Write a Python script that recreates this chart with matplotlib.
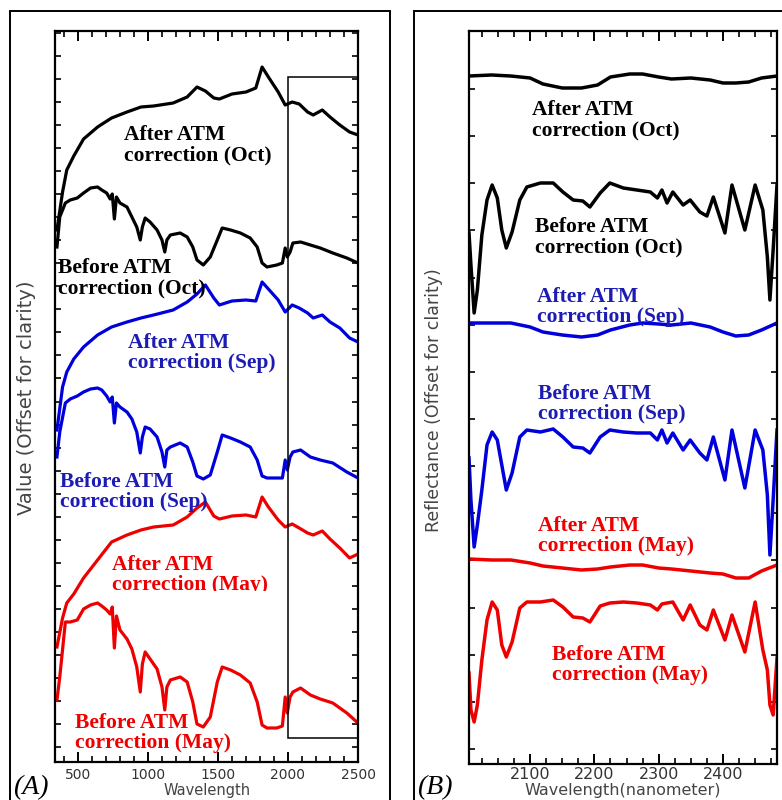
import numpy as np
import matplotlib.pyplot as plt
from matplotlib.patches import Rectangle
from matplotlib.ticker import MultipleLocator

# ---- panel A: full range spectra (offset for clarity) ----
wl_a_after = [350, 390, 420, 470, 540, 640, 740, 850, 950, 1040, 1180, 1280, 1350, 1410,
              1470, 1510, 1600, 1700, 1770, 1815, 1860, 1930, 1980, 2030, 2080, 2140,
              2180, 2245, 2300, 2370, 2440, 2500]
a_after_oct = [53.2, 57.0, 59.2, 60.6, 62.3, 63.5, 64.4, 65.0, 65.5, 65.6, 65.9, 66.5, 67.5, 67.1,
               66.4, 66.3, 66.8, 67.0, 67.4, 69.5, 68.5, 67.0, 65.7, 66.0, 65.8, 65.0,
               64.7, 65.2, 64.5, 63.7, 63.0, 62.7]
a_after_sep = [33.2, 37.5, 39.0, 40.3, 41.5, 42.7, 43.5, 44.0, 44.4, 44.7, 45.2, 46.0, 46.8, 47.7,
               46.4, 45.7, 46.1, 46.2, 46.1, 48.0, 47.3, 46.2, 45.0, 45.7, 45.4, 44.9,
               44.4, 44.7, 44.0, 43.4, 42.4, 42.0]
a_after_may = [11.5, 14.4, 15.9, 16.8, 18.4, 20.2, 22.0, 22.7, 23.2, 23.5, 23.7, 24.5, 25.4, 26.0,
               24.6, 24.3, 24.6, 24.7, 24.5, 26.5, 25.5, 24.2, 23.5, 23.8, 23.4, 22.9,
               22.7, 23.1, 22.3, 21.4, 20.4, 20.8]

wl_a_before = [350, 370, 410, 445, 495, 540, 590, 640, 670, 705, 730, 745, 760, 775, 800,
               850, 885, 920, 945, 960, 980, 1015, 1065, 1100, 1120, 1135, 1160, 1230,
               1280, 1320, 1350, 1395, 1445, 1495, 1530, 1590, 1660, 1730, 1780, 1815,
               1850, 1920, 1960, 1980, 1995, 2015, 2035, 2090, 2160, 2230, 2320, 2420, 2500]
a_before_oct = [51.5, 54.5, 55.9, 56.2, 56.4, 56.9, 57.4, 57.5, 57.2, 56.9, 56.3, 56.8, 54.3, 56.5, 55.9,
                55.5, 54.5, 53.5, 52.2, 53.5, 54.4, 54.0, 53.2, 52.2, 51.0, 52.2, 52.7, 52.9,
                52.5, 51.5, 50.2, 49.7, 50.5, 52.2, 53.4, 53.2, 52.9, 52.4, 51.5, 49.9,
                49.5, 49.7, 49.9, 51.4, 50.5, 51.0, 51.9, 52.0, 51.7, 51.4, 50.9, 50.4, 49.9]
a_before_sep = [30.5, 33.0, 35.9, 36.3, 36.6, 37.0, 37.3, 37.4, 37.2, 36.6, 36.0, 36.5, 33.9, 35.9, 35.5,
                35.0, 34.3, 33.0, 30.9, 32.5, 33.5, 33.3, 32.5, 31.0, 29.5, 31.2, 31.5, 31.9,
                31.5, 30.0, 28.6, 28.3, 28.7, 31.0, 32.7, 32.4, 32.0, 31.5, 30.2, 28.6,
                28.4, 28.4, 28.4, 30.2, 29.2, 30.5, 31.0, 31.2, 30.5, 30.2, 29.9, 29.0, 28.4]
a_before_may = [6.2, 8.5, 14.0, 14.0, 14.2, 15.3, 15.7, 15.9, 15.6, 15.2, 14.8, 15.5, 11.4, 14.6, 13.2,
                12.3, 11.3, 9.5, 7.0, 9.8, 11.0, 10.3, 9.3, 7.5, 5.2, 7.5, 8.2, 8.5,
                8.0, 6.0, 3.8, 3.5, 4.5, 8.0, 9.5, 9.2, 8.7, 7.9, 6.0, 3.7,
                3.4, 3.4, 3.6, 6.5, 4.9, 6.5, 7.0, 7.4, 6.7, 6.3, 5.9, 4.9, 3.9]

# ---- panel B: 2000-2500 nm detail ----
wl_b_after = [2005, 2040, 2070, 2100, 2120, 2150, 2180, 2205, 2225, 2255, 2275, 2300, 2320,
              2350, 2380, 2400, 2420, 2440, 2460, 2484]
b_after_oct = [68.8, 68.9, 68.8, 68.6, 68.0, 67.6, 67.6, 67.9, 68.7, 69.0, 69.0, 68.7, 68.5,
               68.6, 68.4, 68.1, 68.1, 68.2, 68.6, 68.8]
b_after_sep = [44.1, 44.1, 44.1, 43.7, 43.2, 42.9, 42.7, 42.9, 43.4, 43.9, 44.1, 44.0, 43.9,
               44.1, 43.7, 43.2, 42.8, 42.9, 43.4, 44.1]
b_after_may = [20.5, 20.4, 20.4, 20.1, 19.8, 19.6, 19.4, 19.5, 19.7, 19.9, 19.9, 19.6, 19.5,
               19.3, 19.1, 19.0, 18.6, 18.6, 19.3, 19.9]

wl_b_before = [2005, 2008, 2013, 2018, 2025, 2033, 2041, 2049, 2056, 2063, 2072, 2084, 2095, 2116,
               2136, 2151, 2167, 2182, 2193, 2209, 2224, 2245, 2266, 2287, 2298, 2305, 2313, 2322,
               2338, 2349, 2364, 2375, 2385, 2403, 2414, 2434, 2450, 2462, 2469, 2473, 2478, 2484]
b_before_oct = [53.1, 49.9, 45.1, 47.4, 52.9, 56.4, 57.9, 56.6, 53.4, 51.6, 53.2, 56.4, 57.7, 58.1,
                58.1, 57.2, 56.4, 56.3, 55.7, 57.1, 58.1, 57.6, 57.4, 57.2, 56.6, 57.4, 56.1, 57.2,
                55.9, 56.4, 55.2, 54.8, 56.7, 53.1, 57.9, 53.4, 57.9, 55.4, 50.7, 46.4, 51.4, 57.9]
b_before_sep = [30.6, 26.4, 21.7, 23.9, 27.4, 31.9, 33.2, 32.4, 29.9, 27.4, 29.1, 32.7, 33.4, 33.2,
                33.5, 32.7, 31.7, 31.6, 31.1, 32.7, 33.4, 33.2, 33.1, 33.1, 32.4, 33.4, 32.1, 33.1,
                31.4, 32.4, 31.1, 30.4, 32.7, 28.4, 33.4, 27.6, 33.4, 31.4, 26.9, 20.9, 26.4, 33.4]
b_before_may = [9.1, 5.4, 4.2, 5.9, 10.4, 14.4, 16.2, 15.4, 11.9, 10.7, 12.2, 15.6, 16.2, 16.2,
                16.4, 15.7, 14.7, 14.6, 14.2, 15.8, 16.1, 16.2, 16.1, 15.9, 15.4, 16.0, 16.1, 16.2,
                14.4, 15.9, 13.9, 13.4, 15.4, 12.4, 14.9, 11.2, 16.2, 11.4, 9.4, 5.9, 4.9, 10.6]

months = ['Oct', 'Sep', 'May']
line_colours = {'Oct': '#000000', 'Sep': '#0000DD', 'May': '#EE0000'}
text_colours = {'Oct': '#000000', 'Sep': '#1C1CB4', 'May': '#EE0000'}

fig = plt.figure(figsize=(7.82, 8.0), dpi=100, facecolor='white')

# outer frames round each panel
fig.patches.append(Rectangle((10 / 782, -0.05), 380 / 782, 1.05 - 11 / 800, transform=fig.transFigure,
                             fill=False, ec='black', lw=1.4))
fig.patches.append(Rectangle((414 / 782, -0.05), 0.6, 1.05 - 11 / 800, transform=fig.transFigure,
                             fill=False, ec='black', lw=1.4))

axA = fig.add_axes([55 / 782, 1 - 762 / 800, 303 / 782, 731 / 800])
axB = fig.add_axes([469 / 782, 1 - 764 / 800, 308 / 782, 733 / 800])


def style_axes(ax, major, minor, yticks, labelsize, pad):
    for sp in ax.spines.values():
        sp.set_linewidth(1.6)
    ax.xaxis.set_major_locator(MultipleLocator(major))
    ax.xaxis.set_minor_locator(MultipleLocator(minor))
    ax.set_yticks(yticks)
    ax.tick_params(axis='x', which='major', direction='in', length=7, width=1.4,
                   top=True, labelsize=labelsize, pad=pad, labelcolor='#333333')
    ax.tick_params(axis='x', which='minor', direction='in', length=4, width=1.2, top=True)
    ax.tick_params(axis='y', which='major', direction='in', length=4, width=1.2,
                   right=True, labelleft=False)


lw = 2.3
# panel A curves
after_a = {'Oct': a_after_oct, 'Sep': a_after_sep, 'May': a_after_may}
before_a = {'Oct': a_before_oct, 'Sep': a_before_sep, 'May': a_before_may}
for m in months:
    axA.plot(wl_a_after, after_a[m], color=line_colours[m], lw=lw, solid_joinstyle='round')
    axA.plot(wl_a_before, before_a[m], color=line_colours[m], lw=lw, solid_joinstyle='round')

axA.set_xlim(336, 2500)
axA.set_ylim(0, 73.1)
style_axes(axA, 500, 100, np.linspace(1.5, 72.9, 32), 10, 4)
axA.add_patch(Rectangle((2000, 2.4), 500, 66.1, fill=False, ec='black', lw=1.1, zorder=4))

lbl = dict(family='Liberation Serif', weight='bold', size=15.5, ha='left', va='center',
           linespacing=1.0, zorder=3)
axA.text(830, 61.7, 'After ATM\ncorrection (Oct)', color=text_colours['Oct'], **lbl)
axA.text(357, 48.4, 'Before ATM\ncorrection (Oct)', color=text_colours['Oct'], **lbl)
axA.text(857, 40.9, 'After ATM\ncorrection (Sep)', color=text_colours['Sep'], **lbl)
axA.text(371, 27.0, 'Before ATM\ncorrection (Sep)', color=text_colours['Sep'], **lbl)
axA.text(743, 18.7, 'After ATM\ncorrection (May)', color=text_colours['May'], **lbl)
axA.text(479, 2.9, 'Before ATM\ncorrection (May)', color=text_colours['May'], **lbl)
# the lower half of the May caption is masked
axA.add_patch(Rectangle((108 / 782, 1 - 603 / 800), 165 / 782, 12 / 800, transform=fig.transFigure,
                        fc='white', ec='none', zorder=3.5))

# panel B curves
after_b = {'Oct': b_after_oct, 'Sep': b_after_sep, 'May': b_after_may}
before_b = {'Oct': b_before_oct, 'Sep': b_before_sep, 'May': b_before_may}
for m in months:
    axB.plot(wl_b_after, after_b[m], color=line_colours[m], lw=2.5, solid_joinstyle='round')
    axB.plot(wl_b_before, before_b[m], color=line_colours[m], lw=2.5, solid_joinstyle='round')

axB.set_xlim(2005, 2484)
axB.set_ylim(0, 73.3)
style_axes(axB, 100, 25, np.linspace(1.5, 67.5, 15), 11.5, 2.5)
axB.set_xticks([2100, 2200, 2300, 2400])

axB.text(2103, 64.4, 'After ATM\ncorrection (Oct)', color=text_colours['Oct'], **lbl)
axB.text(2108, 52.7, 'Before ATM\ncorrection (Oct)', color=text_colours['Oct'], **lbl)
axB.text(2111, 45.7, 'After ATM\ncorrection (Sep)', color=text_colours['Sep'], **lbl)
axB.text(2112, 36.0, 'Before ATM\ncorrection (Sep)', color=text_colours['Sep'], **lbl)
axB.text(2112, 22.8, 'After ATM\ncorrection (May)', color=text_colours['May'], **lbl)
axB.text(2134, 9.9, 'Before ATM\ncorrection (May)', color=text_colours['May'], **lbl)

# axis titles
fig.text(27 / 782, 1 - 398 / 800, 'Value (Offset for clarity)', rotation=90, ha='center', va='center',
         size=14, color='#444444')
fig.text(434 / 782, 1 - 400 / 800, 'Reflectance (Offset for clarity)', rotation=90, ha='center',
         va='center', size=12.5, color='#444444')
fig.text(207 / 782, 1 - 790 / 800, 'Wavelength', ha='center', va='center', size=10.5, color='#444444')
fig.text(623 / 782, 1 - 790 / 800, 'Wavelength(nanometer)', ha='center', va='center', size=11.5,
         color='#444444')

# panel letters
fig.text(13 / 782, 1 - 794 / 800, '(A)', family='Liberation Serif', style='italic', size=20,
         ha='left', va='baseline')
fig.text(417 / 782, 1 - 794 / 800, '(B)', family='Liberation Serif', style='italic', size=20,
         ha='left', va='baseline')

fig.savefig('out.png', dpi=100)
